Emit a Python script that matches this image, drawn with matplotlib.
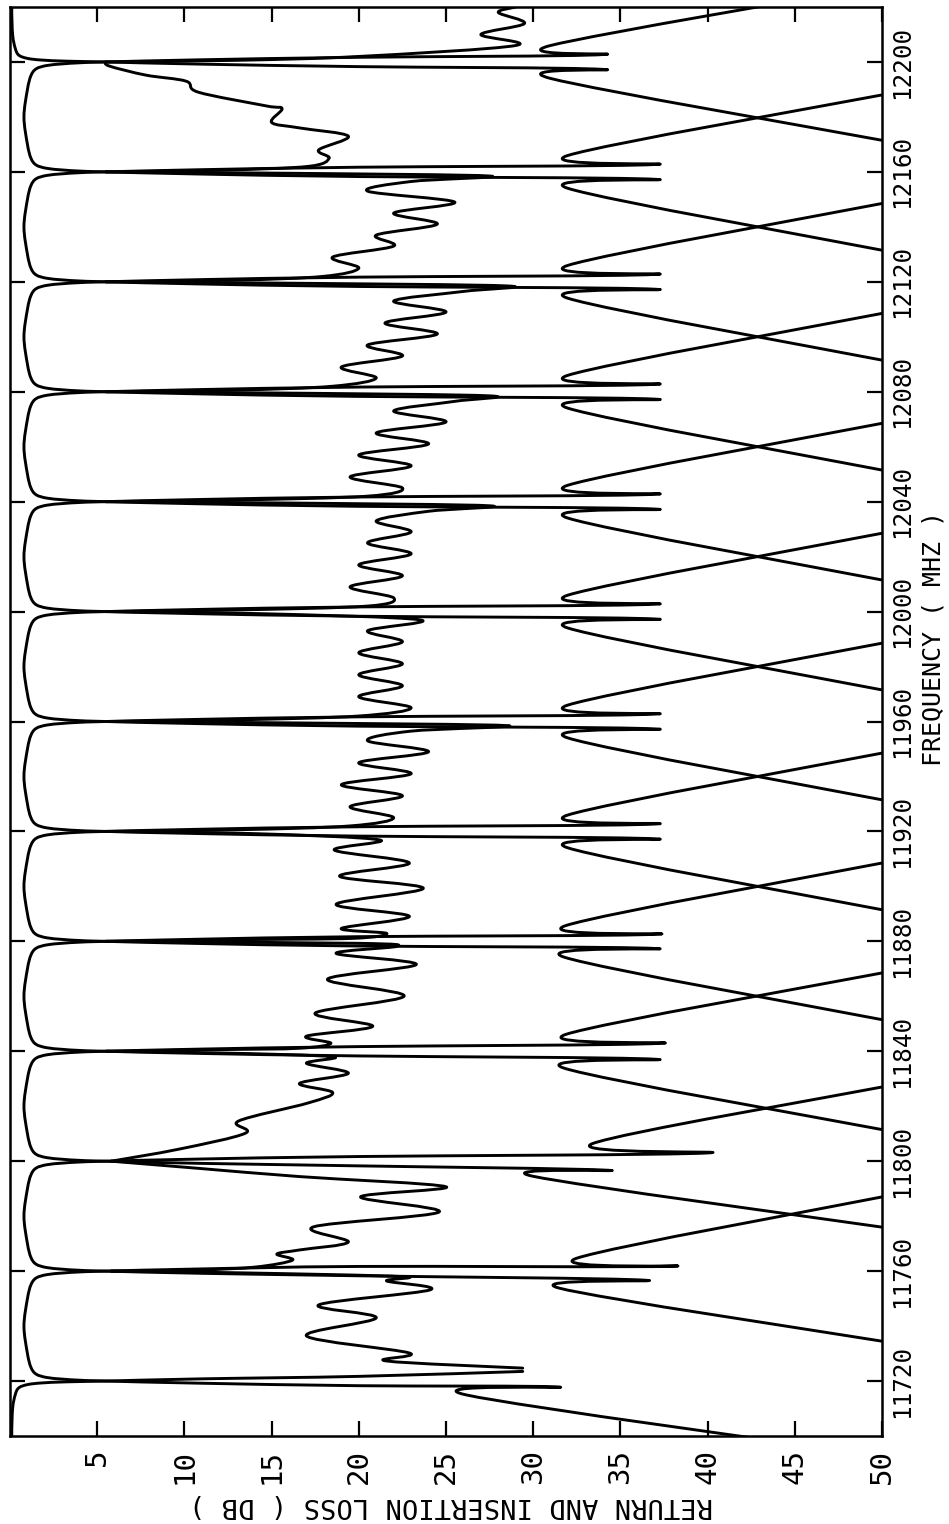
import numpy as np
import matplotlib.pyplot as plt
from matplotlib.path import Path
from matplotlib.patches import PathPatch

# channel crossover frequencies (MHz)
edges = [11720, 11760, 11800, 11840, 11880, 11920, 11960, 12000,
         12040, 12080, 12120, 12160, 12200]
# lower edge of each passband drawn (first and last are partial)
ch_low = [11680] + edges

# passband insertion loss vs distance from the nearer band edge (MHz, dB)
pb_off = [0.0, 0.3, 0.7, 1.3, 2.5, 5.0, 10.0, 20.0]
pb_db = [5.5, 4.0, 3.0, 2.1, 1.5, 1.2, 1.0, 0.8]
# the two partial bands at the ends of the plot sit closer to 0 dB
part_db = [5.5, 3.2, 1.8, 1.0, 0.5, 0.3, 0.15, 0.1]

# steep skirt just outside the band: distance beyond edge (MHz), dB
sk_off = [0.0, 0.8, 1.7]
sk_db = [5.5, 11.0, 20.0]

# per edge: skirt of the channel below it (upper skirt); None = no return
up_tip_off = [3.5, 1.8, 3.0, 2.9, 2.6, 2.7, 2.7, 2.7, 2.7, 2.7, 2.7, 2.7, 2.7]
up_tip_db = [29.4, 38.0, 40.0, 37.3, 37.1, 37.0, 37.0, 37.0, 37.0, 37.0, 37.0, 37.0, 34.0]
up_back_off = [None, 4.7, 6.4, 6.2, 5.8, 6.0, 6.0, 6.0, 6.0, 6.0, 6.0, 6.0, 6.0]
up_back_db = [None, 32.5, 33.4, 31.9, 31.9, 32.0, 32.0, 32.0, 32.0, 32.0, 32.0, 32.0, 31.0]
up_end_off = [None, 27.0, 27.0, 28.5, 28.5, 28.5, 28.5, 28.5, 28.5, 28.5, 28.5, 28.0, 28.0]

# per edge: skirt of the channel above it (lower skirt)
lo_tip_off = [2.2, 3.3, 3.3, 2.9, 2.6, 2.7, 2.7, 2.7, 2.7, 2.7, 2.7, 2.7, 2.7]
lo_tip_db = [31.5, 36.4, 34.3, 37.0, 37.0, 37.0, 37.0, 37.0, 37.0, 37.0, 37.0, 37.0, 34.0]
lo_back_off = [5.1, 6.2, 5.5, 6.2, 5.8, 6.0, 6.0, 6.0, 6.0, 6.0, 6.0, 6.0, 6.0]
lo_back_db = [26.2, 31.5, 30.0, 31.8, 31.8, 32.0, 32.0, 32.0, 32.0, 32.0, 32.0, 32.0, 31.0]
lo_end_off = [27.4, 25.5, 24.0, 28.5, 28.5, 28.5, 28.5, 28.5, 28.5, 28.5, 28.5, 28.5, 28.5]

# channel return loss traces (MHz, dB)
rl_curves = [
    ([11724.7, 11727.3, 11730.2, 11736.4, 11743.0, 11747.7, 11753.2, 11756.4,
      11758.0, 11759.4, 11760.0],
     [29.4, 21.6, 22.9, 17.0, 21.0, 17.7, 24.1, 21.6, 22.5, 13.0, 5.8]),
    ([11760.0, 11760.4, 11761.5, 11764.0, 11766.2, 11767.7, 11770.6, 11776.1,
      11781.5, 11787.0, 11790.7, 11794.4, 11797.4, 11800.0],
     [5.8, 10.8, 14.1, 16.2, 15.3, 16.6, 19.4, 17.4, 24.6, 20.1, 25.0, 16.6, 10.8, 5.8]),
    ([11800.0, 11804.4, 11810.2, 11814.6, 11821.2, 11825.0, 11828.3, 11832.0,
      11835.6, 11838.0, 11839.4, 11840.0],
     [5.8, 9.7, 13.5, 13.1, 17.1, 18.5, 16.6, 19.4, 17.0, 18.5, 12.0, 5.5]),
    ([11840.0, 11840.6, 11841.1, 11842.9, 11845.5, 11849.1, 11853.9, 11860.1,
      11866.2, 11871.6, 11875.6, 11878.2, 11879.3, 11880.0],
     [5.5, 12.0, 16.6, 18.4, 17.0, 20.8, 17.5, 22.6, 18.2, 23.3, 18.7, 22.2, 19.8, 5.5]),
    ([11880.0, 11880.6, 11881.1, 11882.9, 11884.7, 11889.1, 11893.5, 11899.3,
      11903.7, 11908.5, 11913.2, 11916.9, 11919.2, 11920.0],
     [5.5, 13.0, 19.7, 21.6, 19.0, 22.9, 18.7, 23.7, 18.9, 22.9, 18.6, 21.2, 14.0, 5.5]),
    ([11920.0, 11920.6, 11922.0, 11925.0, 11929.0, 11933.0, 11937.0, 11941.0,
      11945.0, 11949.0, 11953.0, 11956.5, 11958.5, 11959.5, 11960.0],
     [5.5, 13.0, 19.5, 22.0, 19.5, 22.5, 19.0, 23.0, 20.0, 24.0, 20.5, 23.0, 28.5, 16.0, 5.5]),
    ([11960.0, 11960.6, 11962.0, 11965.0, 11969.0, 11973.0, 11977.0, 11981.0,
      11985.0, 11989.0, 11993.0, 11997.0, 11999.3, 12000.0],
     [5.5, 13.0, 20.0, 23.0, 20.0, 22.5, 20.0, 22.5, 20.0, 22.5, 20.5, 23.5, 14.0, 5.5]),
    ([12000.0, 12000.6, 12002.0, 12005.0, 12009.0, 12013.0, 12017.0, 12021.0,
      12025.0, 12029.0, 12033.0, 12036.5, 12038.5, 12039.5, 12040.0],
     [5.5, 13.0, 20.5, 22.0, 19.5, 22.5, 20.0, 23.0, 20.5, 23.0, 21.0, 24.0, 27.5, 16.0, 5.5]),
    ([12040.0, 12040.6, 12042.0, 12045.0, 12049.0, 12053.0, 12057.0, 12061.0,
      12065.0, 12069.0, 12073.0, 12076.5, 12078.5, 12079.5, 12080.0],
     [5.5, 13.0, 20.5, 22.5, 19.5, 23.0, 20.0, 24.0, 21.0, 25.0, 22.0, 25.5, 27.5, 16.0, 5.5]),
    ([12080.0, 12080.6, 12082.0, 12085.0, 12089.0, 12093.0, 12097.0, 12101.0,
      12105.0, 12109.0, 12113.0, 12116.5, 12118.5, 12119.5, 12120.0],
     [5.5, 13.0, 18.5, 21.0, 19.0, 22.5, 20.5, 24.5, 21.5, 25.0, 22.0, 26.0, 28.5, 16.0, 5.5]),
    ([12120.0, 12120.6, 12122.0, 12125.0, 12129.0, 12133.0, 12137.0, 12141.0,
      12145.0, 12149.0, 12153.0, 12156.5, 12158.5, 12159.5, 12160.0],
     [5.5, 13.0, 18.0, 20.0, 18.5, 22.0, 21.0, 24.5, 22.0, 25.5, 20.5, 23.0, 27.5, 16.0, 5.5]),
    ([12160.0, 12160.6, 12162.0, 12165.0, 12168.0, 12173.0, 12176.0, 12178.0,
      12183.0, 12184.0, 12189.0, 12193.0, 12195.2, 12198.5, 12200.0],
     [5.5, 12.0, 17.1, 18.3, 17.7, 19.4, 16.6, 15.0, 15.6, 14.7, 10.8, 10.1, 7.8, 5.7, 5.5]),
    ([12200.0, 12200.6, 12202.0, 12206.0, 12210.0, 12214.0, 12218.0, 12220.0],
     [5.5, 13.0, 20.0, 29.0, 27.0, 29.5, 28.0, 29.0]),
]


def channel_loss(lo):
    """Insertion loss trace of the passband starting at lo (MHz)."""
    hi = lo + 40
    band = pb_db if (lo in edges and hi in edges) else part_db
    f, db = [], []
    if lo in edges:
        k = edges.index(lo)
        f += [lo - lo_end_off[k], lo - lo_back_off[k], lo - lo_tip_off[k]]
        db += [50.0, lo_back_db[k], lo_tip_db[k]]
        f += [lo - o for o in sk_off[::-1]]
        db += sk_db[::-1]
    f += [lo + o for o in pb_off[1:]]
    db += band[1:]
    f += [hi - o for o in pb_off[-2:0:-1]]
    db += band[-2:0:-1]
    if hi in edges:
        k = edges.index(hi)
        f += [hi + o for o in sk_off]
        db += sk_db
        f += [hi + up_tip_off[k]]
        db += [up_tip_db[k]]
        if up_back_off[k] is not None:
            f += [hi + up_back_off[k], hi + up_end_off[k]]
            db += [up_back_db[k], 50.0]
    else:
        f += [hi]
        db += [band[0]]
    return np.array(f), np.array(db)


def smooth_path(x, y):
    """Catmull-Rom curve through the points, as cubic Bezier segments."""
    pts = np.column_stack([x, y]).astype(float)
    verts = [pts[0]]
    codes = [Path.MOVETO]
    n = len(pts)
    for i in range(n - 1):
        p0 = pts[max(i - 1, 0)]
        p1 = pts[i]
        p2 = pts[i + 1]
        p3 = pts[min(i + 2, n - 1)]
        verts += [p1 + (p2 - p0) / 6.0, p2 - (p3 - p1) / 6.0, p2]
        codes += [Path.CURVE4] * 3
    return Path(verts, codes)


fig = plt.figure(figsize=(9.49, 15.24), dpi=100)
ax = fig.add_axes([10 / 949, 1 - 1436 / 1524, 872 / 949, 1429 / 1524])

for lo in ch_low:
    f, db = channel_loss(lo)
    ax.add_patch(PathPatch(smooth_path(db, f), fill=False, ec='black',
                           lw=2.1, joinstyle='round', capstyle='round'))

for f, db in rl_curves:
    ax.add_patch(PathPatch(smooth_path(db, f), fill=False, ec='black',
                           lw=2.1, joinstyle='round', capstyle='round'))

ax.set_xlim(0, 50)
ax.set_ylim(11700, 12220)

ax.set_xticks(np.arange(5, 51, 5))
ax.set_yticks(np.arange(11720, 12201, 40))
ax.tick_params(axis='both', direction='in', length=11, width=1.6,
               top=True, right=True, left=True, bottom=True,
               labelleft=False, labelright=True)
ax.tick_params(axis='x', pad=9, labelsize=21)
ax.tick_params(axis='y', pad=6, labelsize=17.5)
for lab in ax.get_xticklabels():
    lab.set_rotation(90)
    lab.set_family('DejaVu Sans Mono')
for lab in ax.get_yticklabels():
    lab.set_rotation(90)
    lab.set_va('center')
    lab.set_family('DejaVu Sans Mono')

for sp in ax.spines.values():
    sp.set_linewidth(1.8)

fig.text(451 / 949, 1 - 1505 / 1524, 'RETURN AND INSERTION LOSS ( DB )',
         rotation=180, ha='center', va='center',
         family='DejaVu Sans Mono', fontsize=19.5)
fig.text(934 / 949, 1 - 638 / 1524, 'FREQUENCY ( MHZ )',
         rotation=90, ha='center', va='center',
         family='DejaVu Sans Mono', fontsize=18)

fig.savefig('out.png', dpi=100)
